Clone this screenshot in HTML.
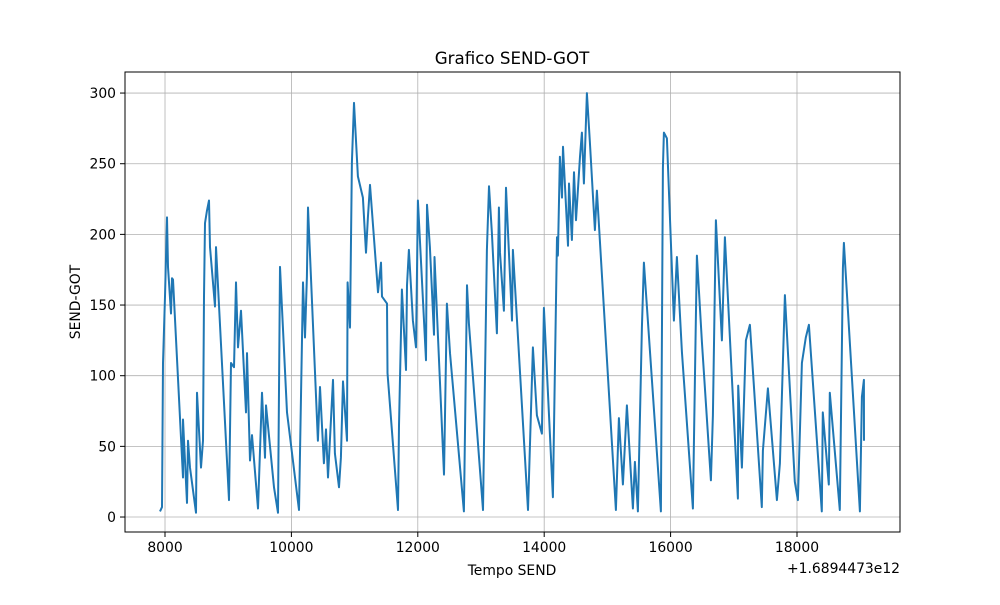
<!DOCTYPE html>
<html><head><meta charset="utf-8"><style>
body{margin:0;background:#fff;}
svg text{font-family:"DejaVu Sans","Liberation Sans",sans-serif;fill:#000;}
</style></head><body>
<svg id="chart" width="1000" height="600" xmlns="http://www.w3.org/2000/svg">
<rect width="1000" height="600" fill="#fff"/>
<g id="grid"></g>
<path id="series" fill="none" stroke="#1f77b4" stroke-width="2" stroke-linejoin="round"/>
<rect x="125" y="72" width="775" height="460" fill="none" stroke="#000" stroke-width="1"/>
<g id="ticks"></g>
<text x="512" y="64" font-size="16.7" text-anchor="middle">Grafico SEND-GOT</text>
<text x="512" y="575" font-size="13.9" text-anchor="middle">Tempo SEND</text>
<text x="900" y="573" font-size="13.9" text-anchor="end">+1.6894473e12</text>
<text x="80" y="302" font-size="13.9" text-anchor="middle" transform="rotate(-90 80 302)">SEND-GOT</text>
</svg>
<script>
const xValues=[7921,7953,7968,8000,8032,8047,8095,8111,8127,8285,8285,8348,8364,8396,8490,8506,8570,8601,8617,8633,8664,8696,8712,8791,8807,9012,9044,9092,9123,9155,9202,9281,9297,9345,9376,9471,9535,9582,9598,9724,9788,9819,9930,10120,10183,10215,10246,10262,10420,10452,10515,10547,10579,10658,10689,10753,10784,10816,10879,10890,10927,10958,10990,11053,11132,11180,11211,11243,11306,11370,11417,11433,11512,11520,11686,11702,11749,11813,11829,11860,11923,11971,12002,12129,12145,12192,12256,12265,12414,12461,12509,12730,12778,12809,13031,13094,13126,13173,13252,13284,13300,13363,13395,13490,13505,13743,13822,13885,13964,13996,14138,14202,14217,14249,14281,14297,14376,14392,14439,14471,14503,14566,14597,14629,14676,14724,14803,14834,15135,15182,15246,15309,15404,15436,15483,15546,15578,15847,15878,15894,15942,16052,16100,16179,16353,16400,16416,16495,16638,16669,16717,16812,16859,17065,17070,17128,17191,17255,17444,17460,17539,17682,17729,17808,17966,18014,18077,18140,18188,18393,18409,18504,18520,18678,18726,18742,18995,19027,19058,19060];
const yValues=[4,7,109,156,212,177,144,169,168,28,69,10,54,35,3,88,35,54,156,208,217,224,191,149,191,12,109,106,166,120,146,74,116,40,58,6,88,42,79,21,3,177,74,5,166,127,170,219,54,92,38,62,28,97,45,21,42,96,54,166,134,251,293,241,226,187,212,235,198,159,180,156,151,102,5,65,161,104,164,189,139,120,224,111,221,191,129,184,30,151,116,4,164,137,5,189,234,201,130,219,187,146,233,139,189,5,120,72,59,148,14,198,185,255,226,262,192,236,196,244,210,255,272,236,300,265,203,231,5,70,23,79,6,39,4,134,180,4,247,272,268,139,184,117,6,142,185,124,26,72,210,125,198,13,93,35,125,136,7,47,91,12,38,157,25,12,109,127,136,4,74,23,88,5,176,194,4,85,97,54];
const xTicks=[8000,10000,12000,14000,16000,18000];
const yTicks=[0,50,100,150,200,250,300];
const X0=125,X1=900,Y0=532,Y1=72,xMin=7367,xMax=19630,yMin=-10.6,yMax=314.9;
function sx(v){return X0+(v-xMin)/(xMax-xMin)*(X1-X0);}
function sy(v){return Y0-(v-yMin)/(yMax-yMin)*(Y0-Y1);}
const NS="http://www.w3.org/2000/svg";
const grid=document.getElementById('grid'),ticks=document.getElementById('ticks');
function mk(tag,attrs,parent){const e=document.createElementNS(NS,tag);for(const k in attrs)e.setAttribute(k,attrs[k]);parent.appendChild(e);return e;}
xTicks.forEach(t=>{const x=sx(t);
 const g=mk('line',{x1:x,x2:x,y1:Y1,y2:Y0,stroke:'#b0b0b0','stroke-width':0.8},grid);
 
 
 mk('line',{x1:x,x2:x,y1:Y0,y2:Y0+5,stroke:'#000'},ticks);
 const tx=mk('text',{x:x,y:Y0+20,'font-size':13.9,'text-anchor':'middle'},ticks);tx.textContent=t;
 
 
});
yTicks.forEach(t=>{const y=sy(t);
 const g=mk('line',{x1:X0,x2:X1,y1:y,y2:y,stroke:'#b0b0b0','stroke-width':0.8},grid);
 
 
 mk('line',{x1:X0-5,x2:X0,y1:y,y2:y,stroke:'#000'},ticks);
 const tx=mk('text',{x:X0-9,y:y+5,'font-size':13.9,'text-anchor':'end'},ticks);tx.textContent=t;
 
 
});
let d='';xValues.forEach((v,i)=>{d+=(i?'L':'M')+sx(v).toFixed(1)+','+sy(yValues[i]).toFixed(1);});
document.getElementById('series').setAttribute('d',d);
</script>
</body></html>
